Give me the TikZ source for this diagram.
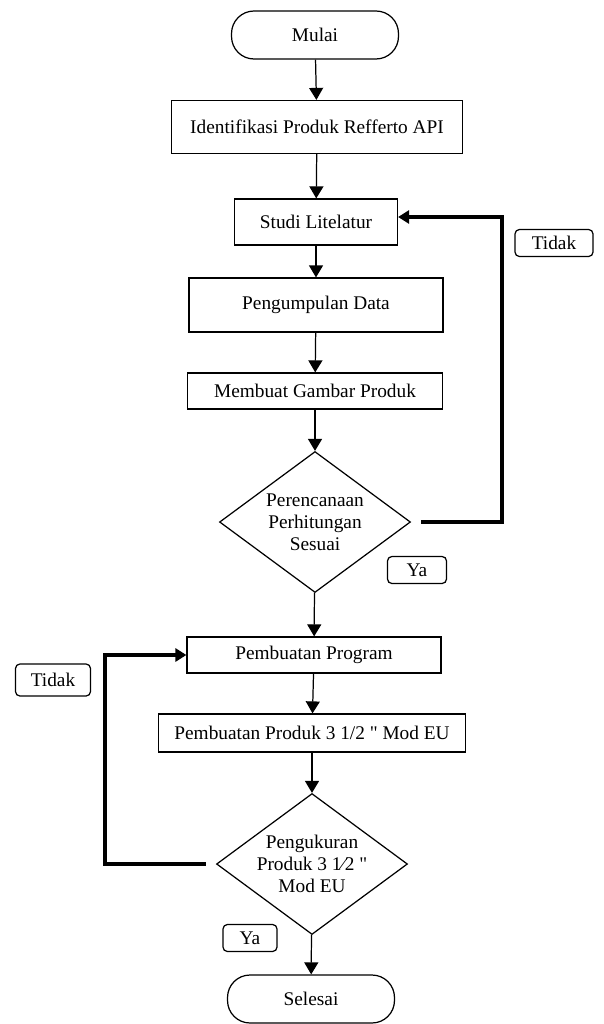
\documentclass[tikz,border=0pt]{standalone}
\usepackage{fontspec}
\setmainfont{Liberation Serif}[Ligatures=TeXOff]
\usetikzlibrary{positioning,arrows.meta,shapes.geometric}
\tikzset{font=\fontsize{11}{12.5}\selectfont}

\begin{document}
\begin{tikzpicture}[x=0.02cm, y=-0.02cm, line width=0.7pt]
	\useasboundingbox (0,0) rectangle (603,1024);
	\begin{scope}
		\tikzstyle{every node}=[align=center, inner sep=1pt]
		\tikzstyle{terminal}=[draw, rounded corners=0.45cm, minimum width=3.34cm, minimum height=0.96cm]
		\tikzstyle{process}=[draw, minimum width=#1]
		\tikzstyle{decision}=[draw, diamond, inner sep=-6pt, minimum width=3.82cm, minimum height=2.82cm]
		\tikzstyle{tag}=[draw, rounded corners=2.5pt, minimum height=0.54cm, minimum width=#1]
		\tikzstyle{flow}=[-{Triangle[length=0.24cm, width=0.28cm]}]
		\tikzstyle{feedback}=[line width=2.2pt, -{Triangle[length=0.22cm, width=0.26cm]}]

		\node[terminal] (mulai) at (315, 35) {Mulai};
		\node[process=5.82cm, minimum height=1.06cm] (identifikasi) at (317, 127) {Identifikasi Produk Refferto API};
		\node[process=3.26cm, minimum height=0.92cm] (studi) at (316, 222) {Studi Litelatur};
		\node[process=5.08cm, minimum height=1.08cm] (data) at (316, 305) {Pengumpulan Data};
		\node[process=5.1cm, minimum height=0.72cm] (gambar) at (315, 391) {Membuat Gambar Produk};
		\node[decision] (cek) at (315, 522) {Perencanaan\\Perhitungan\\Sesuai};
		\node[process=5.08cm, minimum height=0.72cm] (program) at (314, 655) {Pembuatan Program};
		\node[process=6.14cm, minimum height=0.76cm] (produk) at (312, 733) {Pembuatan Produk 3 1/2 " Mod EU};
		\node[decision] (ukur) at (312, 864) {Pengukuran\\Produk 3 1⁄2 "\\Mod EU};
		\node[terminal] (selesai) at (311, 999) {Selesai};

		\node[tag=1.56cm] (tidak1) at (554, 243) {Tidak};
		\node[tag=1.18cm] (ya1) at (417, 570) {Ya};
		\node[tag=1.5cm, minimum height=0.64cm] (tidak2) at (53, 680) {Tidak};
		\node[tag=1.08cm] (ya2) at (250, 938) {Ya};

		\coordinate (kanan) at (502, 400);
		\coordinate (kiri) at (105, 760);

		\draw[flow] (mulai) -- (identifikasi);
		\draw[flow] (identifikasi) -- (studi);
		\draw[flow] (studi) -- (data);
		\draw[flow] (data) -- (gambar);
		\draw[flow] (gambar) -- (cek);
		\draw[flow] (cek) -- (program);
		\draw[flow] (program) -- (produk);
		\draw[flow] (produk) -- (ukur);
		\draw[flow] (ukur) -- (selesai);

		\draw[feedback] ([xshift=0.2cm]cek.east) -| (kanan) |- ([yshift=0.1cm]studi.east);
		\draw[feedback] ([xshift=-0.2cm]ukur.west) -| (kiri) |- (program.west);
	\end{scope}
\end{tikzpicture}
\end{document}
